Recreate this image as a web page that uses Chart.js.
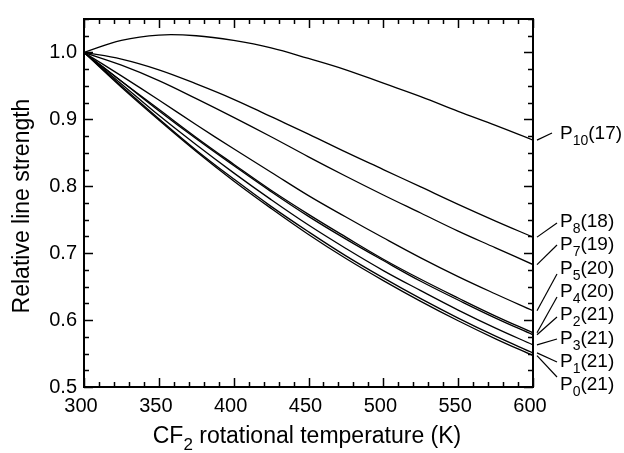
<!DOCTYPE html>
<html>
<head>
<meta charset="utf-8">
<script src="https://cdn.jsdelivr.net/npm/chart.js@4.4.0/dist/chart.umd.min.js"></script>
<style>
  body { margin: 0; background: #fff; }
  #wrap { width: 624px; height: 453px; }
</style>
</head>
<body>
<div id="wrap"><canvas id="chart" width="624" height="453"></canvas></div>
<script>
// temperatures (K) at which the curves were read
const temps = [300, 325, 350, 375, 400, 425, 450, 475, 500, 525, 550, 575, 600];

// relative line strength
const p10 = [1.000, 1.018, 1.026, 1.025, 1.018, 1.007, 0.991, 0.974, 0.954, 0.934, 0.912, 0.891, 0.869];
const p8  = [1.000, 0.990, 0.974, 0.953, 0.930, 0.904, 0.878, 0.851, 0.825, 0.799, 0.773, 0.748, 0.724];
const p7  = [1.000, 0.981, 0.958, 0.931, 0.903, 0.874, 0.844, 0.815, 0.787, 0.760, 0.733, 0.708, 0.683];
const p5  = [1.000, 0.965, 0.929, 0.892, 0.856, 0.821, 0.786, 0.754, 0.723, 0.693, 0.665, 0.639, 0.614];
const p4  = [1.000, 0.957, 0.915, 0.873, 0.833, 0.794, 0.758, 0.724, 0.691, 0.661, 0.633, 0.606, 0.581];
const p2  = [1.000, 0.957, 0.913, 0.871, 0.831, 0.792, 0.755, 0.721, 0.689, 0.658, 0.630, 0.603, 0.578];
const p3  = [1.000, 0.953, 0.906, 0.862, 0.820, 0.780, 0.742, 0.707, 0.674, 0.644, 0.615, 0.588, 0.563];
const p1  = [1.000, 0.950, 0.901, 0.854, 0.811, 0.770, 0.732, 0.696, 0.663, 0.632, 0.603, 0.576, 0.551];
const p0  = [1.000, 0.948, 0.899, 0.852, 0.808, 0.767, 0.728, 0.692, 0.659, 0.628, 0.599, 0.572, 0.547];

// series names: branch P, subscript, (J)
const seriesNames = [['P', '10', '(17)'], ['P', '8', '(18)'], ['P', '7', '(19)'], ['P', '5', '(20)'],
                     ['P', '4', '(20)'], ['P', '2', '(21)'], ['P', '3', '(21)'], ['P', '1', '(21)'], ['P', '0', '(21)']];
const seriesValues = [p10, p8, p7, p5, p4, p2, p3, p1, p0];

// axis ticks
const xTickValues = [300, 350, 400, 450, 500, 550, 600];
const yTickValues = [0.5, 0.6, 0.7, 0.8, 0.9, 1.0];
const yTickLabels = ['0.5', '0.6', '0.7', '0.8', '0.9', '1.0'];

// label placement on the right (pixel centre of text, end of leader line)
const labelLayout = [
    { cy: 132, ly: 133 }, { cy: 220, ly: 223 }, { cy: 243, ly: 245 }, { cy: 267, ly: 274 },
    { cy: 290, ly: 297 }, { cy: 313, ly: 317 }, { cy: 337, ly: 339 }, { cy: 360, ly: 362 },
    { cy: 383, ly: 377 }
];

const FONT = '"Liberation Sans", Arial, Helvetica, sans-serif';

function drawSubText(ctx, x, y, parts, size, subSize, subDrop) {
    ctx.font = size + 'px ' + FONT;
    ctx.fillText(parts[0], x, y);
    x += ctx.measureText(parts[0]).width;
    ctx.font = subSize + 'px ' + FONT;
    ctx.fillText(parts[1], x, y + subDrop);
    x += ctx.measureText(parts[1]).width;
    ctx.font = size + 'px ' + FONT;
    ctx.fillText(parts[2], x, y);
}

function subTextWidth(ctx, parts, size, subSize) {
    ctx.font = size + 'px ' + FONT;
    let w = ctx.measureText(parts[0]).width + ctx.measureText(parts[2]).width;
    ctx.font = subSize + 'px ' + FONT;
    return w + ctx.measureText(parts[1]).width;
}

const framePlugin = {
    id: 'frame',
    afterDraw(chart) {
        const ctx = chart.ctx;
        const area = chart.chartArea;
        const xs = chart.scales.x;
        const ys = chart.scales.y;
        ctx.save();
        ctx.strokeStyle = '#000';
        ctx.fillStyle = '#000';

        // inward ticks on all four sides
        ctx.lineWidth = 1.5;
        ctx.beginPath();
        for (let v = 300; v <= 600; v += 10) {
            const px = Math.round(xs.getPixelForValue(v)) + 0.5;
            const len = v % 50 === 0 ? 9 : 5;
            ctx.moveTo(px, area.bottom); ctx.lineTo(px, area.bottom - len);
            ctx.moveTo(px, area.top); ctx.lineTo(px, area.top + len);
        }
        for (let i = 0; i <= 22; i++) {
            const v = 0.5 + i * 0.025;
            const py = Math.round(ys.getPixelForValue(v)) + 0.5;
            const len = i % 4 === 0 ? 9 : 5;
            ctx.moveTo(area.left, py); ctx.lineTo(area.left + len, py);
            ctx.moveTo(area.right, py); ctx.lineTo(area.right - len, py);
        }
        ctx.stroke();

        // frame
        ctx.lineWidth = 2;
        ctx.strokeRect(area.left, area.top, area.right - area.left, area.bottom - area.top);

        // y title
        ctx.save();
        ctx.translate(29, 206);
        ctx.rotate(-Math.PI / 2);
        ctx.font = '23px ' + FONT;
        ctx.textAlign = 'center';
        ctx.textBaseline = 'alphabetic';
        ctx.fillText('Relative line strength', 0, 0);
        ctx.restore();

        // x title with subscript
        ctx.textAlign = 'left';
        ctx.textBaseline = 'alphabetic';
        const xt = ['CF', '2', ' rotational temperature (K)'];
        const tw = subTextWidth(ctx, xt, 23, 17);
        drawSubText(ctx, 307 - tw / 2, 443, xt, 23, 17, 7);

        // curve labels with leader lines
        ctx.lineWidth = 1.2;
        seriesNames.forEach((name, i) => {
            const vals = seriesValues[i];
            const endY = ys.getPixelForValue(vals[vals.length - 1]);
            const lay = labelLayout[i];
            ctx.beginPath();
            ctx.moveTo(area.right + 4, endY);
            ctx.lineTo(area.right + (i === 0 ? 19 : 24), lay.ly);
            ctx.stroke();
            ctx.textBaseline = 'alphabetic';
            drawSubText(ctx, 560, lay.cy + 7, name, 19, 14, 6);
        });
        ctx.restore();
    }
};

const datasets = seriesValues.map((vals, i) => ({
    label: seriesNames[i].join(''),
    data: temps.map((t, j) => ({ x: t, y: vals[j] })),
    borderColor: '#000',
    borderWidth: 1.3,
    pointRadius: 0,
    fill: false,
    tension: 0.4
}));

new Chart(document.getElementById('chart').getContext('2d'), {
    type: 'line',
    data: { datasets: datasets },
    options: {
        responsive: false,
        animation: false,
        layout: { padding: { left: 0, right: 91, top: 9, bottom: 0 } },
        plugins: { legend: { display: false }, tooltip: { enabled: false } },
        scales: {
            x: {
                type: 'linear',
                min: 300,
                max: 600,
                grid: { display: false, drawTicks: false },
                border: { display: false },
                afterBuildTicks: function(scale) {
                    scale.ticks = xTickValues.map(v => ({ value: v }));
                },
                afterFit: function(scale) { scale.height = 66; },
                ticks: {
                    color: '#000',
                    font: { family: FONT, size: 20 },
                    padding: 7,
                    labelOffset: -3,
                    maxRotation: 0,
                    callback: v => String(v)
                }
            },
            y: {
                min: 0.5,
                max: 1.05,
                grid: { display: false, drawTicks: false },
                border: { display: false },
                afterBuildTicks: function(scale) {
                    scale.ticks = yTickValues.map(v => ({ value: v }));
                },
                afterFit: function(scale) { scale.width = 84; },
                ticks: {
                    color: '#000',
                    font: { family: FONT, size: 20 },
                    padding: 7,
                    callback: function(v) {
                        const idx = yTickValues.findIndex(t => Math.abs(t - v) < 1e-6);
                        return idx >= 0 ? yTickLabels[idx] : '';
                    }
                }
            }
        }
    },
    plugins: [framePlugin]
});
</script>
</body>
</html>
